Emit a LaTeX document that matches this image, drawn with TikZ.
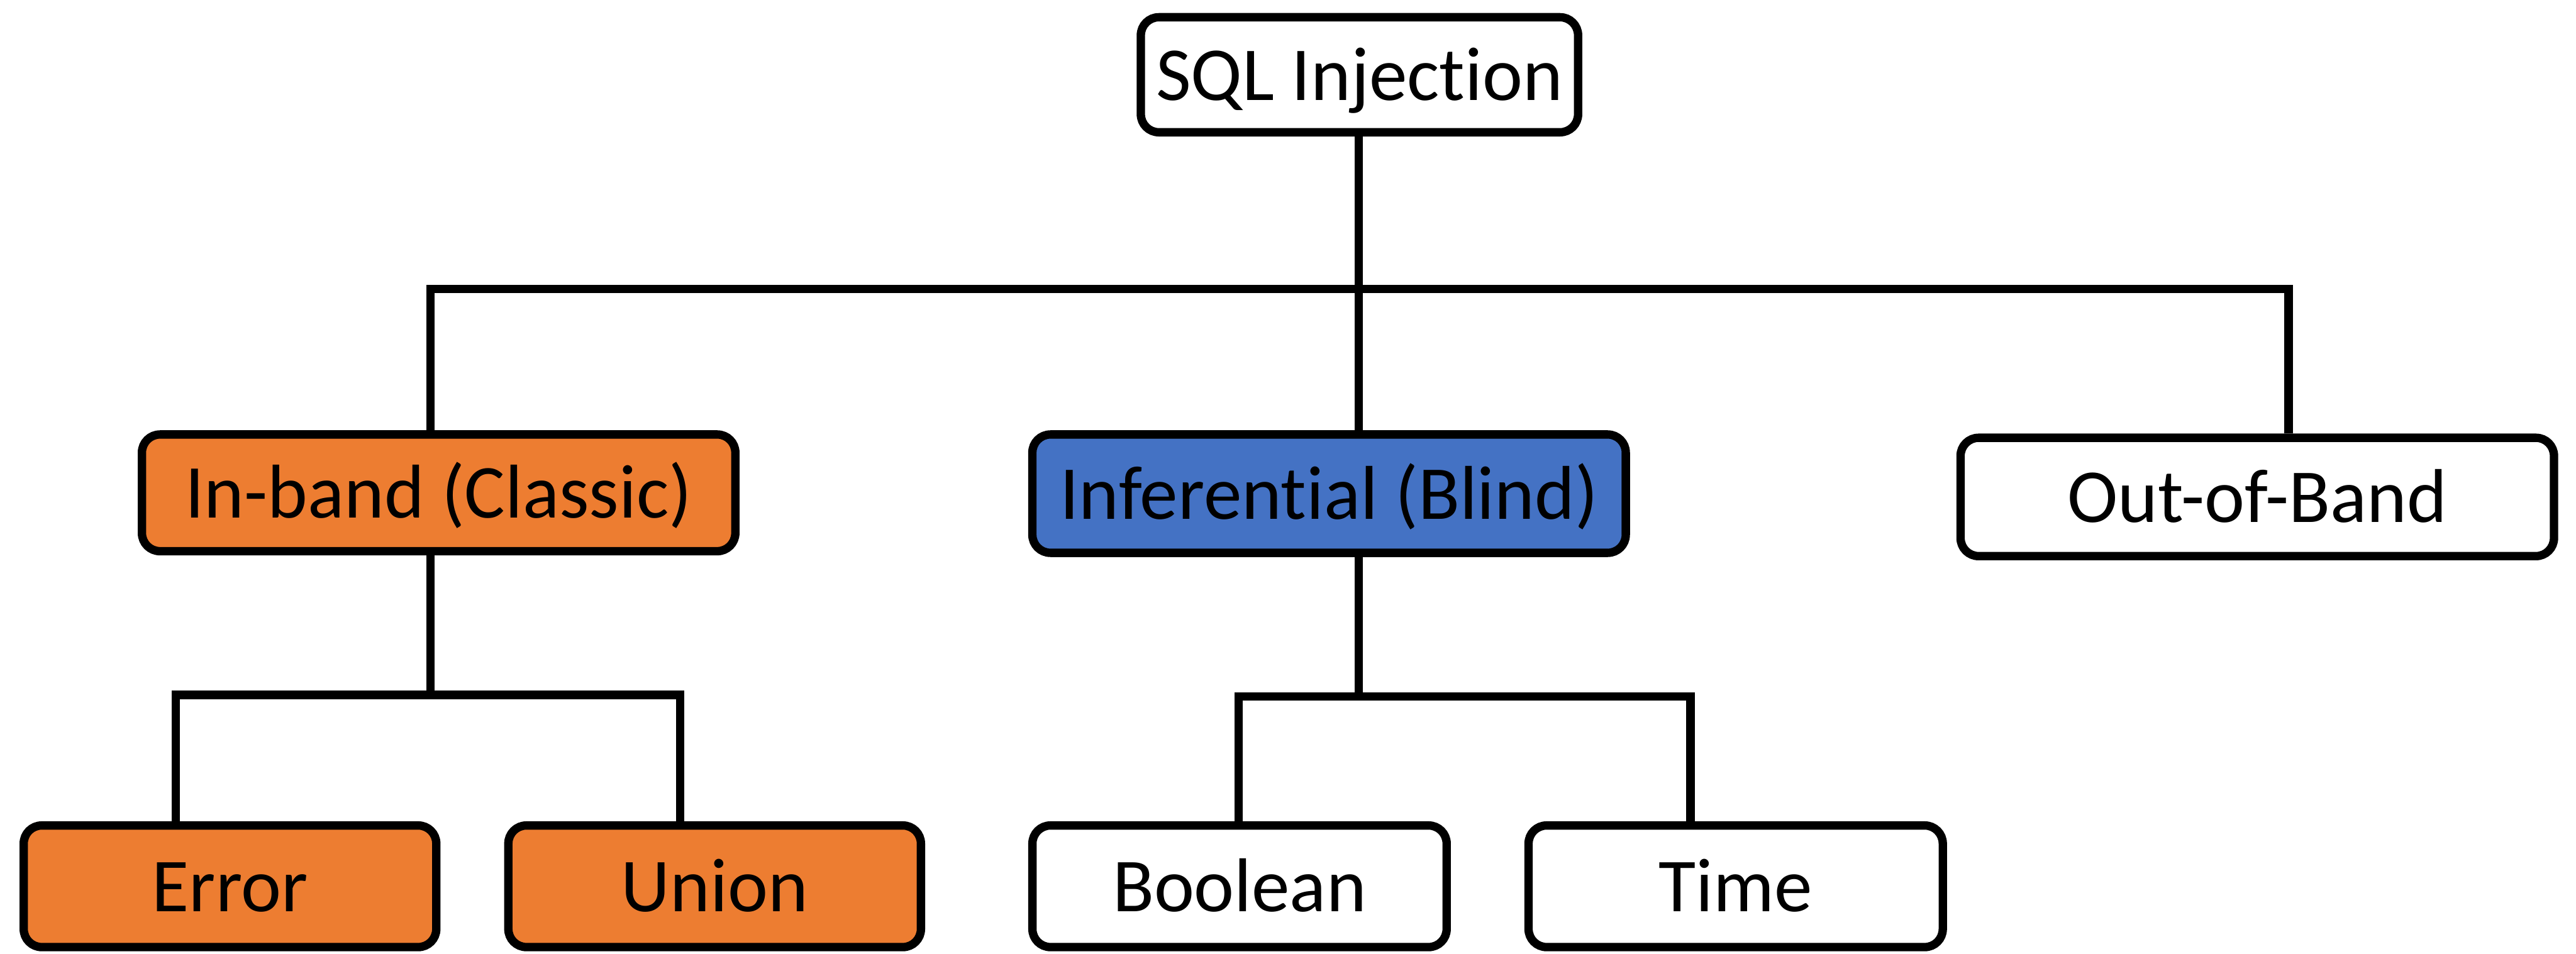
\documentclass[tikz,border=0pt]{standalone}
\usepackage{fontspec}
\setmainfont{Carlito}[Ligatures={NoCommon}]
\usetikzlibrary{calc}
\definecolor{orangeF}{HTML}{ED7D31}
\definecolor{blueF}{HTML}{4472C4}
\tikzset{
  box/.style={draw=black, line width=1.45pt, rounded corners=0.11cm,
    font=\fontsize{13.2}{15}\selectfont, text height=0.644em+2.3pt, text depth=0pt,
    inner sep=0pt, align=center},
  conn/.style={draw=black, line width=1.45pt},
}
\begin{document}
\begin{tikzpicture}[x=0.01cm, y=-0.01cm]
\useasboundingbox (0,0) rectangle (1568,580.4);
% nodes
\node[box, fill=white, minimum width=2.66cm, minimum height=0.70cm] (sql) at (827.5,45.5) {SQL Injection};
\node[box, fill=orangeF, minimum width=3.61cm, minimum height=0.71cm] (inband) at (267,300) {In-band (Classic)};
\node[box, fill=blueF, minimum width=3.61cm, minimum height=0.72cm] (inf) at (809,300.5) {Inferential (Blind)};
\node[box, fill=white, minimum width=3.61cm, minimum height=0.72cm] (oob) at (1374,302.5) {Out-of-Band};
\node[box, fill=orangeF, minimum width=2.51cm, minimum height=0.74cm] (err) at (140,539.5) {Error};
\node[box, fill=orangeF, minimum width=2.51cm, minimum height=0.74cm] (uni) at (435,539.5) {Union};
\node[box, fill=white, minimum width=2.52cm, minimum height=0.74cm] (bool) at (754.5,539.5) {Boolean};
\node[box, fill=white, minimum width=2.52cm, minimum height=0.74cm] (time) at (1056.5,539.5) {Time};
% junction coordinates
\coordinate (tL) at (262,176);
\coordinate (tM) at (827,176);
\coordinate (tR) at (1393,176);
\coordinate (aM) at (262,423);
\coordinate (aL) at (107,423);
\coordinate (aR) at (414,423);
\coordinate (bM) at (827,424);
\coordinate (bL) at (754,424);
\coordinate (bR) at (1029,424);
% connectors
\draw[conn] (sql.south -| tM) -- (inf.north -| tM);
\draw[conn] (inband.north -| tL) -- (tL) -- (tR) -- (oob.north -| tR);
\draw[conn] (inband.south -| aM) -- (aM);
\draw[conn] (err.north -| aL) -- (aL) -- (aR) -- (uni.north -| aR);
\draw[conn] (inf.south -| bM) -- (bM);
\draw[conn] (bool.north -| bL) -- (bL) -- (bR) -- (time.north -| bR);
\end{tikzpicture}
\end{document}
